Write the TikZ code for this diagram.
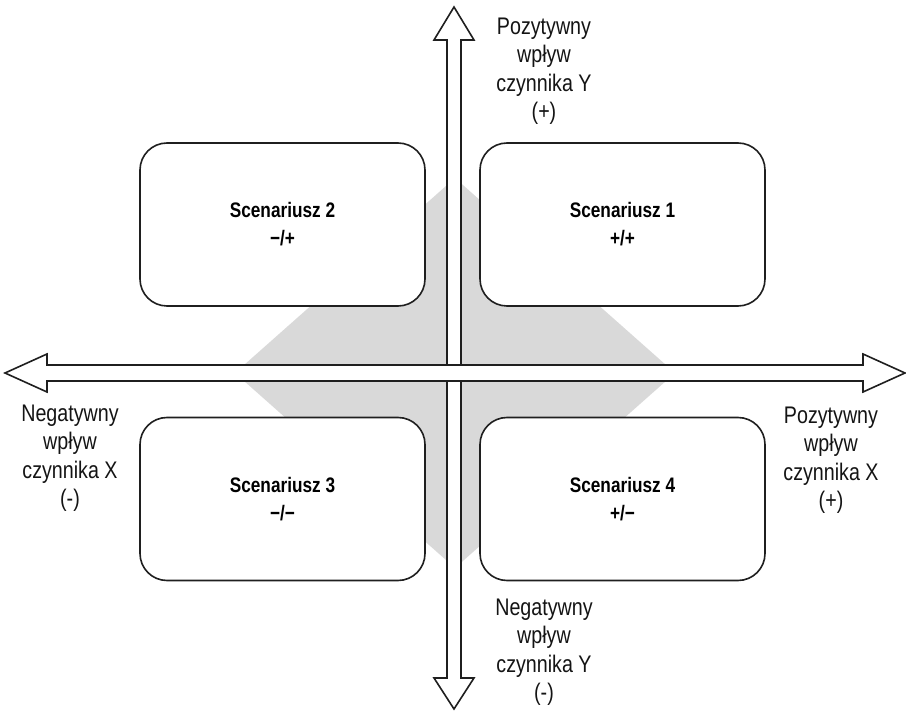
\documentclass[tikz,border=0pt]{standalone}
\usepackage{fontspec}
\setmainfont{Liberation Sans}[FakeStretch=0.82]
\begin{document}
\begin{tikzpicture}[x=1pt,y=-1pt,
  ink/.style={draw=black!88, line width=1.6pt, line join=miter},
  scenbox/.style={ink, fill=white, rounded corners=27pt, minimum width=285pt,
    minimum height=163pt, align=center, inner sep=0pt,
    font=\fontsize{21}{28}\selectfont\bfseries},
  axislabel/.style={align=center, inner sep=0pt, text=black!92,
    font=\fontsize{24}{28.5}\selectfont}]
\useasboundingbox (0,0) rectangle (906,711);

% grey diamond behind everything
\fill[black!15] (235,373) -- (455,178) -- (675,373) -- (455,568) -- cycle;

% vertical double arrow (Y axis)
\coordinate (ytop) at (454,7);
\coordinate (ybot) at (454,709);
\draw[ink, fill=white] (ytop) -- (474,40) -- (461,40) -- (461,678) -- (474,678)
  -- (ybot) -- (434,678) -- (447,678) -- (447,40) -- (434,40) -- cycle;

% horizontal double arrow (X axis), drawn over the vertical one
\coordinate (xleft) at (5,373);
\coordinate (xright) at (905,373);
\draw[ink, fill=white] (xleft) -- (47,354) -- (47,365) -- (863,365) -- (863,354)
  -- (xright) -- (863,392) -- (863,381) -- (47,381) -- (47,392) -- cycle;

% scenario boxes
\node[scenbox] (s2) at (282.5,224.5) {Scenariusz 2\\−/+};
\node[scenbox] (s1) at (622.5,224.5) {Scenariusz 1\\+/+};
\node[scenbox] (s3) at (282.5,499) {Scenariusz 3\\−/−};
\node[scenbox] (s4) at (622.5,499) {Scenariusz 4\\+/−};

% axis labels
\node[axislabel] (ypos) at (544,71) {Pozytywny\\wpływ\\czynnika Y\\(+)};
\node[axislabel] (yneg) at (544,652) {Negatywny\\wpływ\\czynnika Y\\(-)};
\node[axislabel] (xneg) at (70,458) {Negatywny\\wpływ\\czynnika X\\(-)};
\node[axislabel] (xpos) at (831,460) {Pozytywny\\wpływ\\czynnika X\\(+)};
\end{tikzpicture}
\end{document}
